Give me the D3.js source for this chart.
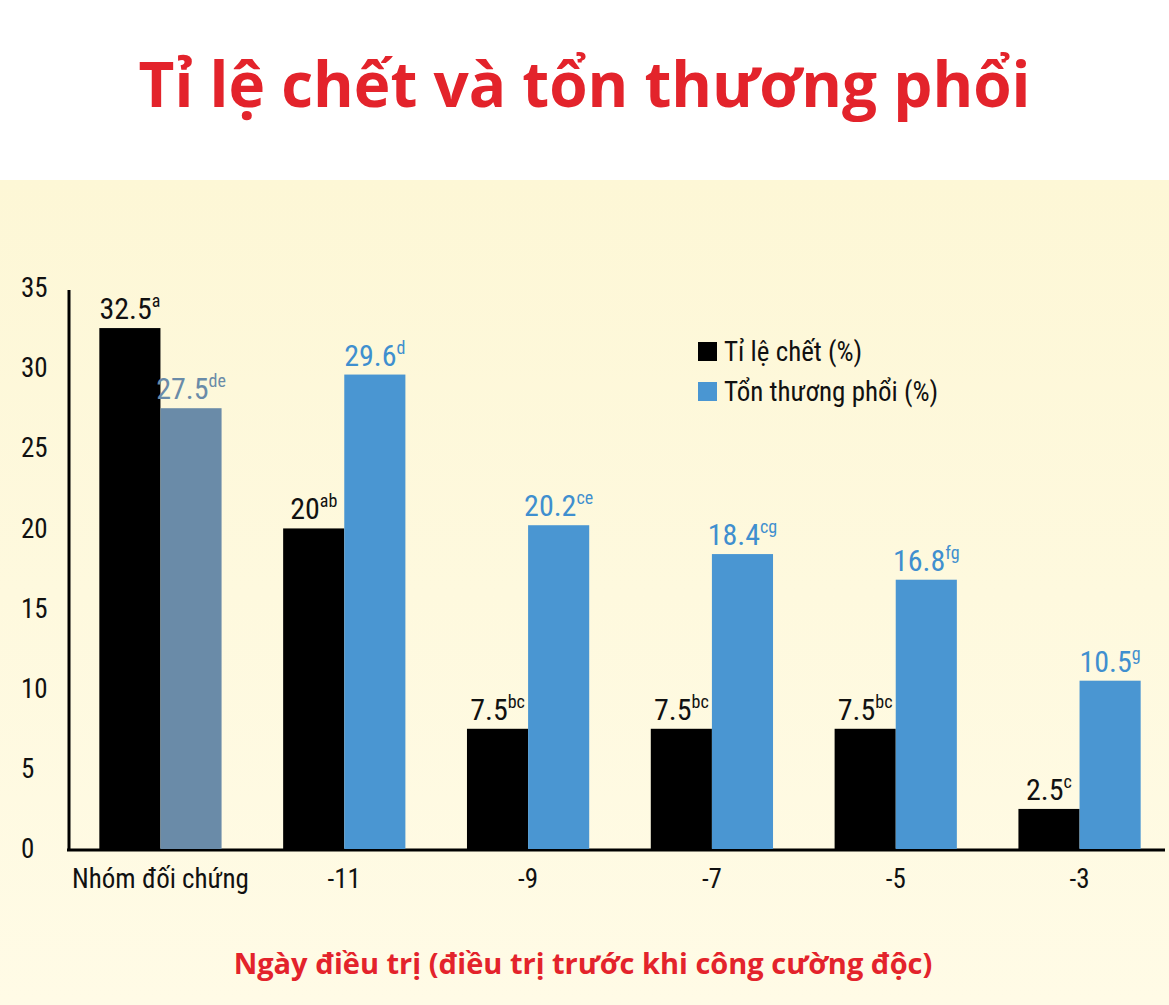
<!DOCTYPE html>
<html><head><meta charset="utf-8">
<script src="https://cdn.jsdelivr.net/npm/d3@7"></script>
<style>body{margin:0}svg{display:block}</style>
</head><body><div id="chart"></div>
<script>
const groups = ['Nhóm đối chứng', '-11', '-9', '-7', '-5', '-3'];
const deathRate = [32.5, 20, 7.5, 7.5, 7.5, 2.5];
const deathSup = ['a', 'ab', 'bc', 'bc', 'bc', 'c'];
const lungDamage = [27.5, 29.6, 20.2, 18.4, 16.8, 10.5];
const lungSup = ['de', 'd', 'ce', 'cg', 'fg', 'g'];
const yTicks = [0, 5, 10, 15, 20, 25, 30, 35];

const W = 1169, H = 1005;
const font = "'Liberation Sans Narrow','Roboto Condensed','Open Sans',sans-serif";
const svg = d3.select('#chart').append('svg').attr('width', W).attr('height', H);

const grad = svg.append('defs').append('linearGradient').attr('id', 'bg')
	.attr('x1', 0).attr('y1', 0).attr('x2', 0).attr('y2', 1);
grad.append('stop').attr('offset', 0).attr('stop-color', '#fdf7d6');
grad.append('stop').attr('offset', 1).attr('stop-color', '#fffbe6');

svg.append('rect').attr('width', W).attr('height', H).attr('fill', '#fff');
svg.append('rect').attr('y', 180).attr('width', W).attr('height', H - 180).attr('fill', 'url(#bg)');

svg.append('text').attr('x', W / 2).attr('y', 107).attr('text-anchor', 'middle')
	.attr('font-family', "'Open Sans',sans-serif").attr('font-weight', 700).attr('font-size', 62)
	.attr('fill', '#e3232b').text('Tỉ lệ chết và tổn thương phổi');

const y = d3.scaleLinear().domain([0, 35]).range([849, 288]);
const x = d3.scaleBand().domain(groups).range([69, 1171]).paddingInner(0.335).paddingOuter(0.165);
const bw = x.bandwidth() / 2;

// Axes
const yAxis = d3.axisLeft(y).tickValues(yTicks).tickSize(0).tickPadding(10);
const gy = svg.append('g').attr('transform', 'translate(69,0)').call(yAxis);
gy.select('.domain').attr('stroke', '#000').attr('stroke-width', 3).attr('d', 'M0,290V851');
gy.selectAll('text').attr('font-family', font).attr('font-size', 27).attr('fill', '#111').attr('text-anchor', 'start').attr('x', -48);

const xAxis = d3.axisBottom(x).tickSize(0).tickPadding(14);
const gx = svg.append('g').attr('transform', 'translate(0,850)').call(xAxis);
gx.select('.domain').attr('stroke', '#000').attr('stroke-width', 3).attr('d', 'M67,0H1165');
gx.selectAll('text').attr('font-family', font).attr('font-size', 27).attr('fill', '#111').attr('dy', '0.9em');

// Bars
const bars = svg.append('g');
groups.forEach((g, i) => {
	const x0 = x(g);
	bars.append('rect').attr('x', x0).attr('y', y(deathRate[i])).attr('width', bw)
		.attr('height', y(0) - y(deathRate[i])).attr('fill', '#000');
	bars.append('rect').attr('x', x0 + bw).attr('y', y(lungDamage[i])).attr('width', bw)
		.attr('height', y(0) - y(lungDamage[i])).attr('fill', i === 0 ? '#6a8ba8' : '#4a96d2');

	const lab = (cx, val, sup, color) => {
		const t = bars.append('text').attr('x', cx).attr('y', y(val) - 9).attr('text-anchor', 'middle')
			.attr('font-family', font).attr('font-size', 30).attr('fill', color);
		t.append('tspan').text(val);
		t.append('tspan').attr('font-size', 18).attr('dy', -12).text(sup);
	};
	lab(x0 + bw / 2, deathRate[i], deathSup[i], '#111');
	lab(x0 + bw * 1.5, lungDamage[i], lungSup[i], i === 0 ? '#6a8ba8' : '#3f8fcf');
});

// Legend
const legend = [['Tỉ lệ chết (%)', '#000'], ['Tổn thương phổi (%)', '#4a96d2']];
legend.forEach((d, i) => {
	const ly = 352 + i * 40;
	svg.append('rect').attr('x', 698).attr('y', ly - 10).attr('width', 19).attr('height', 19).attr('fill', d[1]);
	svg.append('text').attr('x', 724).attr('y', ly + 9).attr('font-family', font).attr('font-size', 27)
		.attr('fill', '#111').text(d[0]);
});

svg.append('text').attr('x', 583).attr('y', 974).attr('text-anchor', 'middle')
	.attr('font-family', "'Open Sans',sans-serif").attr('font-weight', 700).attr('font-size', 29)
	.attr('fill', '#e3232b').text('Ngày điều trị (điều trị trước khi công cường độc)');
</script></body></html>
